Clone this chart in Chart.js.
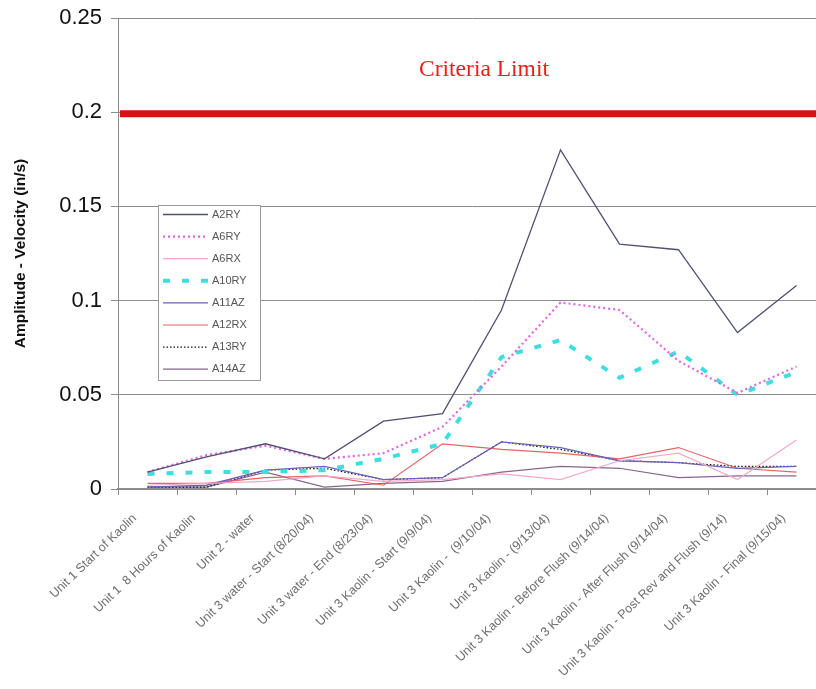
<!DOCTYPE html>
<html>
<head>
<meta charset="utf-8">
<script src="https://cdn.jsdelivr.net/npm/chart.js@4.4.1/dist/chart.umd.min.js"></script>
<style>
  html, body { margin: 0; padding: 0; background: #ffffff; overflow: hidden; }
  #wrap { position: relative; width: 830px; height: 689px; }
</style>
</head>
<body>
<div id="wrap"><canvas id="c" width="830" height="689"></canvas></div>
<script>
// Measurement stages along the x axis
const categories = [
  'Unit 1 Start of Kaolin',
  'Unit 1  8 Hours of Kaolin',
  'Unit 2 - water',
  'Unit 3 water - Start (8/20/04)',
  'Unit 3 water - End (8/23/04)',
  'Unit 3 Kaolin - Start (9/9/04)',
  'Unit 3 Kaolin -  (9/10/04)',
  'Unit 3 Kaolin - (9/13/04)',
  'Unit 3 Kaolin - Before Flush (9/14/04)',
  'Unit 3 Kaolin - After Flush (9/14/04)',
  'Unit 3 Kaolin - Post Rev and Flush (9/14)',
  'Unit 3 Kaolin - Final (9/15/04)'
];

// Vibration amplitude (in/s) per sensor
const A2RY  = [0.009, 0.017, 0.024, 0.016, 0.036, 0.040, 0.095, 0.180, 0.130, 0.127, 0.083, 0.108];
const A6RY  = [0.009, 0.018, 0.023, 0.016, 0.019, 0.033, 0.065, 0.099, 0.095, 0.068, 0.051, 0.065];
const A6RX  = [0.002, 0.003, 0.004, 0.007, 0.004, 0.005, 0.008, 0.005, 0.015, 0.019, 0.005, 0.026];
const A10RY = [0.008, 0.009, 0.009, 0.010, 0.016, 0.024, 0.070, 0.079, 0.059, 0.073, 0.050, 0.062];
const A11AZ = [0.001, 0.002, 0.010, 0.012, 0.005, 0.006, 0.025, 0.022, 0.015, 0.014, 0.011, 0.012];
const A12RX = [0.003, 0.003, 0.006, 0.007, 0.002, 0.024, 0.021, 0.019, 0.016, 0.022, 0.011, 0.009];
const A13RY = [0.001, 0.001, 0.010, 0.011, 0.005, 0.006, 0.025, 0.021, 0.015, 0.014, 0.012, 0.012];
const A14AZ = [0.001, 0.001, 0.009, 0.001, 0.003, 0.004, 0.009, 0.012, 0.011, 0.006, 0.007, 0.007];

const seriesNames = ['A2RY', 'A6RY', 'A6RX', 'A10RY', 'A11AZ', 'A12RX', 'A13RY', 'A14AZ'];
const seriesValues = [A2RY, A6RY, A6RX, A10RY, A11AZ, A12RX, A13RY, A14AZ];

// Y axis range and tick spacing
const yMin = 0;
const yMax = 0.25;
const yStep = 0.05;

// Allowable vibration limit
const criteriaLimit = 0.2;
const criteriaText = 'Criteria Limit';
const yTitle = 'Amplitude - Velocity (in/s)';

const seriesStyles = [
  { color: '#4f4f73', width: 1.3, dash: [] },
  { color: '#e066de', width: 2.2, dash: [2, 3] },
  { color: '#f2a9c6', width: 1.2, dash: [] },
  { color: '#3fdede', width: 4, dash: [7, 12] },
  { color: '#6b62b4', width: 1.3, dash: [] },
  { color: '#e46464', width: 1.2, dash: [] },
  { color: '#111111', width: 1.2, dash: [1.5, 2] },
  { color: '#8a6590', width: 1.2, dash: [] }
];

const datasets = seriesNames.map((name, i) => ({
  label: name,
  data: seriesValues[i],
  borderColor: seriesStyles[i].color,
  backgroundColor: seriesStyles[i].color,
  borderWidth: seriesStyles[i].width,
  borderDash: seriesStyles[i].dash,
  pointRadius: 0,
  pointHoverRadius: 0,
  tension: 0,
  fill: false
}));

// Red limit line with its caption
const criteriaPlugin = {
  id: 'criteria',
  beforeDatasetsDraw(chart) {
    const { ctx, chartArea } = chart;
    const y = chart.scales.y.getPixelForValue(criteriaLimit) + 1.5;
    ctx.save();
    ctx.strokeStyle = '#d41414';
    ctx.lineWidth = 7;
    ctx.beginPath();
    ctx.moveTo(chartArea.left + 2, y);
    ctx.lineTo(chartArea.right, y);
    ctx.stroke();
    ctx.fillStyle = '#ee1c1c';
    ctx.font = '23.5px "Liberation Serif", "Times New Roman", serif';
    ctx.textAlign = 'center';
    ctx.textBaseline = 'middle';
    ctx.fillText(criteriaText, chartArea.left + 366, chart.scales.y.getPixelForValue(0.2225));
    ctx.restore();
  }
};

// Boxed legend drawn inside the plot
const boxLegendPlugin = {
  id: 'boxLegend',
  afterDatasetsDraw(chart) {
    const { ctx, chartArea } = chart;
    const bx = chartArea.left + 40;
    const by = chartArea.top + 187;
    const bw = 102;
    const bh = 175;
    const rowH = 22.1;
    ctx.save();
    ctx.fillStyle = '#ffffff';
    ctx.fillRect(bx, by, bw, bh);
    ctx.strokeStyle = '#9a9a9a';
    ctx.lineWidth = 1;
    ctx.setLineDash([]);
    ctx.strokeRect(bx + 0.5, by + 0.5, bw, bh);
    ctx.font = '11px "Liberation Sans", Arial, sans-serif';
    ctx.textAlign = 'left';
    ctx.textBaseline = 'middle';
    chart.data.datasets.forEach((ds, i) => {
      const y = by + 9.5 + i * rowH;
      ctx.strokeStyle = ds.borderColor;
      ctx.lineWidth = ds.borderWidth;
      ctx.setLineDash(ds.borderDash || []);
      ctx.beginPath();
      ctx.moveTo(bx + 5, y);
      ctx.lineTo(bx + 50, y);
      ctx.stroke();
      ctx.setLineDash([]);
      ctx.fillStyle = '#555555';
      ctx.fillText(ds.label, bx + 54, y);
    });
    ctx.restore();
  }
};

new Chart(document.getElementById('c'), {
  type: 'line',
  data: { labels: categories, datasets },
  plugins: [criteriaPlugin, boxLegendPlugin],
  options: {
    responsive: false,
    animation: false,
    devicePixelRatio: 1,
    layout: { padding: { top: 18, right: 4, left: 0, bottom: 0 } },
    plugins: {
      legend: { display: false },
      tooltip: { enabled: false }
    },
    scales: {
      x: {
        offset: true,
        grid: {
          offset: true,
          drawOnChartArea: false,
          drawTicks: true,
          tickLength: 6,
          color: '#8c8c8c'
        },
        border: { color: '#8c8c8c', width: 1.5 },
        ticks: {
          autoSkip: false,
          minRotation: 44,
          maxRotation: 44,
          padding: 16,
          labelOffset: -13,
          color: '#6e6e6e',
          font: { family: '"Liberation Sans", Arial, sans-serif', size: 12.5 }
        },
        afterFit(scale) { scale.height = 200; }
      },
      y: {
        min: yMin,
        max: yMax,
        grid: {
          color: '#8c8c8c',
          lineWidth: 1,
          drawTicks: true,
          tickLength: 7
        },
        border: { color: '#8c8c8c', width: 1 },
        ticks: {
          stepSize: yStep,
          padding: 9,
          color: '#111111',
          font: { family: '"Liberation Sans", Arial, sans-serif', size: 22 },
          callback: (v) => String(Number(v.toFixed(2)))
        },
        title: {
          display: true,
          text: yTitle,
          color: '#111111',
          padding: { top: 11, bottom: 0 },
          font: { family: '"Liberation Sans", Arial, sans-serif', size: 15.5, weight: 'bold' }
        },
        afterFit(scale) {
          scale.width = 118;
          scale.paddingTop = 0;
          scale.paddingBottom = 0;
        }
      }
    }
  }
});
</script>
</body>
</html>
